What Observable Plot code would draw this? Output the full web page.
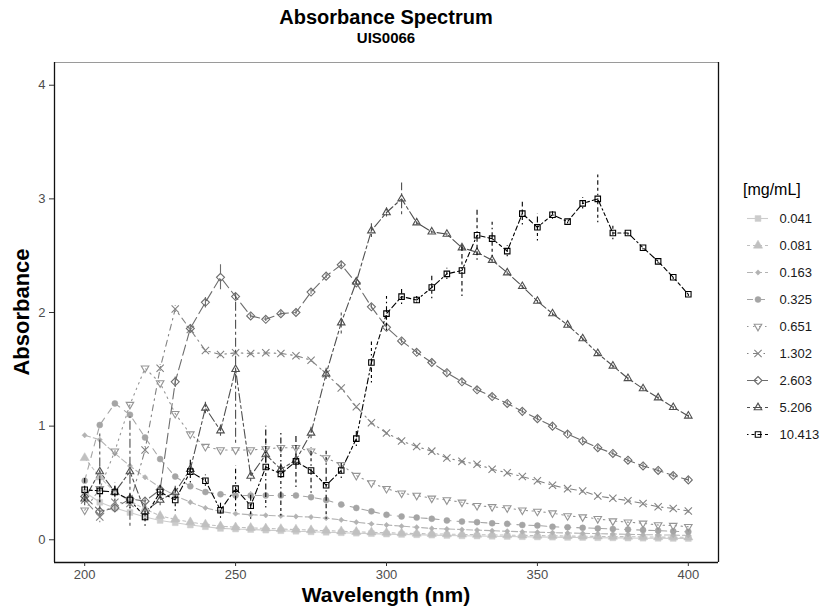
<!DOCTYPE html>
<html><head><meta charset="utf-8">
<script src="https://cdn.jsdelivr.net/npm/d3@7"></script>
<script src="https://cdn.jsdelivr.net/npm/@observablehq/plot@0.6"></script>
<style>
body{margin:0;background:#fff;font-family:"Liberation Sans",Arial,sans-serif;}
#wrap{position:relative;width:826px;height:613px;overflow:hidden;background:#fff;}
.abs{position:absolute;white-space:nowrap;}
#wrap svg{position:absolute;}
</style></head><body>
<div id="wrap">
  <div class="abs" style="left:0;width:772px;top:8px;text-align:center;font-size:20px;line-height:18px;font-weight:bold;color:#000">Absorbance Spectrum</div>
  <div class="abs" style="left:0;width:772px;top:31px;text-align:center;font-size:15px;line-height:13px;font-weight:bold;color:#000">UIS0066</div>
  <div class="abs" style="left:0;width:772px;top:586px;text-align:center;font-size:21px;line-height:17px;font-weight:bold;color:#000">Wavelength (nm)</div>
  <div class="abs" style="left:-128px;width:300px;top:301px;text-align:center;font-size:22px;line-height:22px;font-weight:bold;color:#000;transform:rotate(-90deg);">Absorbance</div>
  <div class="abs" style="left:743px;top:182px;font-size:16px;line-height:16px;color:#000">[mg/mL]</div>
</div>
<script>
// ---- data ----
const wavelengths = [200,205,210,215,220,225,230,235,240,245,250,255,260,265,270,275,280,285,290,295,300,305,310,315,320,325,330,335,340,345,350,355,360,365,370,375,380,385,390,395,400];
const concLabels = ["0.041","0.081","0.163","0.325","0.651","1.302","2.603","5.206","10.413"];
const xTicks = [200,250,300,350,400];
const yTicks = [0,1,2,3,4];

const s0041 = [0.42,0.33,0.28,0.24,0.20,0.17,0.15,0.13,0.115,0.10,0.095,0.09,0.085,0.08,0.075,0.07,0.066,0.062,0.058,0.054,0.05,0.047,0.044,0.041,0.038,0.035,0.033,0.031,0.029,0.027,0.025,0.023,0.021,0.02,0.018,0.017,0.015,0.014,0.013,0.012,0.011];
const s0081 = [0.72,0.55,0.42,0.34,0.27,0.21,0.18,0.155,0.135,0.12,0.11,0.105,0.10,0.095,0.09,0.085,0.08,0.075,0.07,0.066,0.062,0.058,0.055,0.052,0.05,0.047,0.045,0.043,0.041,0.039,0.037,0.035,0.033,0.031,0.03,0.028,0.027,0.025,0.024,0.023,0.022];
const s0163 = [0.92,0.88,0.76,0.65,0.55,0.46,0.39,0.33,0.28,0.25,0.23,0.22,0.215,0.21,0.205,0.20,0.19,0.175,0.155,0.14,0.13,0.12,0.11,0.10,0.095,0.09,0.085,0.08,0.075,0.07,0.067,0.063,0.06,0.057,0.054,0.051,0.048,0.045,0.043,0.041,0.039];
const s0325 = [0.52,1.01,1.20,1.10,0.90,0.71,0.556,0.47,0.42,0.40,0.39,0.39,0.39,0.39,0.39,0.375,0.35,0.31,0.28,0.25,0.22,0.205,0.195,0.185,0.17,0.16,0.155,0.145,0.14,0.13,0.125,0.115,0.11,0.105,0.10,0.095,0.09,0.085,0.08,0.075,0.07];
const s0651 = [0.26,0.45,0.78,1.19,1.51,1.38,1.11,0.93,0.82,0.79,0.79,0.79,0.80,0.81,0.81,0.78,0.72,0.66,0.565,0.50,0.45,0.41,0.39,0.365,0.35,0.33,0.30,0.29,0.28,0.26,0.25,0.235,0.21,0.20,0.185,0.165,0.155,0.145,0.13,0.125,0.115];
const s1302 = [0.35,0.20,0.33,0.32,0.79,1.51,2.03,1.85,1.665,1.63,1.645,1.64,1.645,1.64,1.62,1.58,1.46,1.335,1.17,1.03,0.94,0.87,0.82,0.78,0.72,0.69,0.665,0.62,0.59,0.556,0.52,0.48,0.45,0.43,0.385,0.365,0.344,0.32,0.29,0.276,0.253];
const s2603 = [0.38,0.25,0.28,0.36,0.34,0.44,1.39,1.86,2.09,2.31,2.14,1.97,1.94,1.99,2.00,2.18,2.32,2.42,2.26,2.05,1.87,1.75,1.65,1.56,1.47,1.39,1.32,1.26,1.20,1.13,1.065,1.00,0.93,0.87,0.81,0.76,0.70,0.65,0.61,0.565,0.527];
const s5206 = [0.36,0.60,0.42,0.60,0.25,0.35,0.42,0.62,1.16,0.96,1.50,0.56,0.75,0.62,0.70,0.94,1.46,1.91,2.27,2.72,2.88,3.00,2.79,2.71,2.69,2.57,2.53,2.46,2.35,2.23,2.10,1.99,1.89,1.77,1.64,1.53,1.42,1.33,1.25,1.165,1.09];
const s10413 = [0.44,0.43,0.42,0.35,0.20,0.42,0.35,0.60,0.52,0.26,0.45,0.30,0.64,0.58,0.69,0.61,0.48,0.61,0.89,1.56,1.99,2.14,2.11,2.22,2.34,2.37,2.68,2.65,2.54,2.87,2.75,2.86,2.80,2.96,3.00,2.70,2.70,2.57,2.45,2.31,2.16];

// error bar half-widths (sd)
const e1302 = [0.03,0.05,0.03,0.03,0.03,0.03,0.03,0.03,0.02,0.02,0.02,0.02,0.02,0.02,0.02,0.02,0.02,0.02,0.02,0.02,0.02,0.02,0.02,0.02,0.02,0.02,0.02,0.02,0.02,0.02,0.02,0.02,0.02,0.02,0.02,0.02,0.02,0.02,0.02,0.02,0.02];
const e2603 = [0.03,0.03,0.03,0.03,0.03,0.03,0.05,0.03,0.05,0.11,0.03,0.02,0.02,0.02,0.02,0.02,0.02,0.03,0.02,0.02,0.02,0.02,0.02,0.02,0.02,0.02,0.02,0.02,0.02,0.02,0.02,0.02,0.02,0.02,0.02,0.02,0.02,0.02,0.02,0.02,0.02];
const e5206 = [0.06,0.33,0.05,0.48,0.05,0.05,0.05,0.05,0.05,0.05,0.65,0.05,0.13,0.05,0.05,0.05,0.05,0.10,0.03,0.06,0.04,0.14,0.02,0.02,0.02,0.02,0.02,0.02,0.02,0.02,0.02,0.02,0.02,0.02,0.02,0.02,0.02,0.02,0.02,0.02,0.02];
const e10413 = [0.10,0.10,0.08,0.08,0.08,0.06,0.10,0.10,0.05,0.07,0.20,0.12,0.36,0.37,0.23,0.20,0.30,0.07,0.07,0.18,0.15,0.07,0.03,0.10,0.05,0.23,0.22,0.16,0.05,0.10,0.12,0.04,0.02,0.05,0.21,0.06,0.02,0.02,0.02,0.02,0.02];

const seriesValues = [s0041,s0081,s0163,s0325,s0651,s1302,s2603,s5206,s10413];
const seriesErrors = [null,null,null,null,null,e1302,e2603,e5206,e10413];

// ---- styles ----
const colors = ["#CCCCCC","#C0C0C0","#B3B3B3","#A5A5A5","#959595","#838383","#6D6D6D","#4F4F4F","#000000"];
const symbols = ["square","triangle","diamond2","circle","triangle2","times","diamond2","triangle2","square2"];
const filled = [true,true,true,true,false,false,false,false,false];
const radii = [3.3,3.4,2.4,3.0,3.6,3.4,3.6,3.6,3.5];
const rotations = [0,0,0,0,180,0,0,0,0];
const dashes = ["none","3,3","6,3","6,6","1.5,4.5","1.5,4.5,6,4.5","10.5,4.5","3,3,9,3","1.5,3,3,3,4.5,3,6,3"];
const xDomain = [190,410];
const yDomain = [-0.2,4.2];
const font = "'Liberation Sans', Arial, sans-serif";

const lineMarks = [], dotMarks = [], errMarks = [];
seriesValues.forEach((vals, i) => {
  const err = seriesErrors[i];
  const data = wavelengths.map((w, j) => ({w, v: vals[j], e: err ? err[j] : 0}));
  lineMarks.push(Plot.line(data, {x: "w", y: "v", stroke: colors[i], strokeWidth: 1.1, strokeDasharray: dashes[i]}));
  dotMarks.push(Plot.dot(data, {x: "w", y: "v", symbol: symbols[i], r: radii[i], rotate: rotations[i],
    fill: filled[i] ? colors[i] : "none", stroke: colors[i], strokeWidth: filled[i] ? 0.5 : 1.1}));
  if (err) errMarks.push(Plot.ruleX(data.filter(d => d.e > 0), {x: "w", y1: d => d.v - d.e, y2: d => d.v + d.e,
    stroke: colors[i], strokeWidth: 1.1, strokeDasharray: dashes[i]}));
});

const chart = Plot.plot({
  width: 826, height: 613,
  marginLeft: 54, marginRight: 108, marginTop: 62, marginBottom: 51,
  style: {fontFamily: font, fontSize: "13px", background: "transparent", overflow: "visible"},
  x: {domain: xDomain, label: null},
  y: {domain: yDomain, label: null},
  marks: [
    ...lineMarks,
    ...dotMarks,
    ...errMarks,
    Plot.ruleY([yDomain[1]], {stroke: "#9a9a9a", strokeWidth: 1.2}),
    Plot.ruleX([xDomain[0], xDomain[1]], {stroke: "#111", strokeWidth: 1.3}),
    Plot.ruleY([yDomain[0]], {stroke: "#111", strokeWidth: 1.3}),
    Plot.axisX({ticks: xTicks, tickFormat: d3.format("d"), tickSize: 4, tickPadding: 3, fontSize: 13, fill: "#4d4d4d", stroke: "#333", label: null}),
    Plot.axisY({ticks: yTicks, tickFormat: d3.format("d"), tickSize: 5, tickPadding: 4, fontSize: 13, fill: "#4d4d4d", stroke: "#333", label: null})
  ]
});
chart.style.left = "0px"; chart.style.top = "0px";
document.getElementById("wrap").appendChild(chart);

// ---- legend ----
const legMarks = [];
concLabels.forEach((c, i) => {
  legMarks.push(Plot.ruleY([c], {y: d => d, stroke: colors[i], strokeWidth: 1.1, strokeDasharray: dashes[i]}));
  legMarks.push(Plot.dot([c], {y: d => d, symbol: symbols[i], r: radii[i], rotate: rotations[i],
    fill: filled[i] ? colors[i] : "none", stroke: colors[i], strokeWidth: filled[i] ? 0.5 : 1.1}));
  legMarks.push(Plot.text([c], {y: d => d, text: d => d, frameAnchor: "right", textAnchor: "start", dx: 11,
    fill: "#1a1a1a", fontSize: 13}));
});
const legend = Plot.plot({
  width: 80, height: 246,
  marginLeft: 0, marginRight: 59, marginTop: 0, marginBottom: 0,
  style: {fontFamily: font, fontSize: "13px", background: "transparent", overflow: "visible"},
  x: {axis: null},
  y: {type: "point", domain: concLabels, padding: 0.5, axis: null},
  marks: legMarks
});
legend.style.left = "747px"; legend.style.top = "202.5px";
document.getElementById("wrap").appendChild(legend);
</script>
</body></html>
